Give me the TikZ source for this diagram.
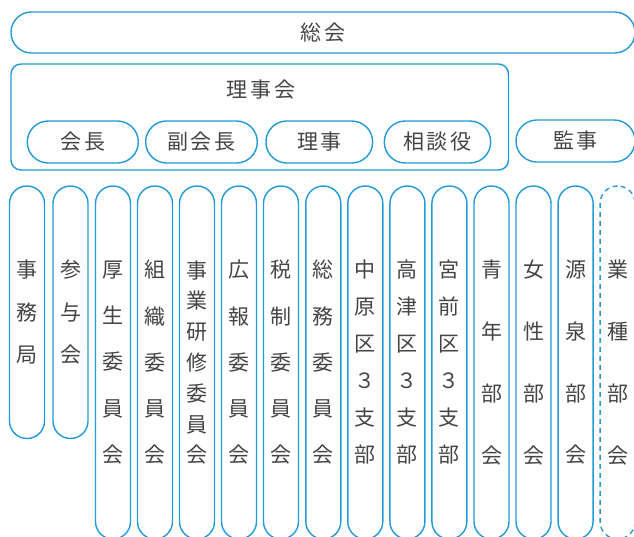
\documentclass[tikz,border=0pt]{standalone}
\usepackage{fontspec}
\setmainfont{Noto Sans CJK JP}
\newfontfamily\jpwide[LetterSpace=12]{Noto Sans CJK JP}
\definecolor{lineblue}{RGB}{32,154,216}
\definecolor{textgray}{RGB}{68,68,68}
\begin{document}
\begin{tikzpicture}[x=1pt,y=-1pt,
    every node/.style={text=textgray, inner sep=0pt},
    box/.style={draw=lineblue, line width=1.4pt},
    hpill/.style={box, rounded corners=20.9pt, minimum height=42pt,
      font=\jpwide\fontsize{21}{21}\selectfont},
    col/.style={box, rounded corners=17.4pt, minimum width=35pt, align=center},
    long/.style={col, minimum height=353pt},
    short/.style={col, minimum height=252.5pt},
    three/.style={font=\fontsize{21}{42.5}\selectfont},
    four/.style={font=\fontsize{21}{61.7}\selectfont},
    five/.style={font=\fontsize{21}{46.25}\selectfont},
    six/.style={font=\fontsize{21}{37}\selectfont},
    seven/.style={font=\fontsize{21}{30.8}\selectfont}]
    \useasboundingbox (0,0) rectangle (634,536);

    \node[hpill, minimum height=41pt, rounded corners=20.4pt, minimum width=624pt] (soukai) at (323,32.5) {総会};

    \node[box, rounded corners=10pt, minimum width=497.5pt, minimum height=106pt] (rijikai) at (259.75,117) {};
    \node[font=\jpwide\fontsize{21}{21}\selectfont] (rijikaiLabel) at (261,90) {理事会};

    \node[hpill, minimum width=111pt]   (kaicho)     at (82.8,142)  {会長};
    \node[hpill, minimum width=111.6pt] (fukukaicho) at (201.5,142) {副会長};
    \node[hpill, minimum width=106.7pt] (riji)       at (319.3,142) {理事};
    \node[hpill, minimum width=106.4pt] (sodanyaku)  at (437.5,142) {相談役};
    \node[hpill, minimum width=119pt]   (kanji)      at (575.5,141) {監事};

    \node[short, three] (jimukyoku) at (27,312.25)   {事\\務\\局};
    \node[short, three] (sanyokai)  at (70.5,312.25) {参\\与\\会};

    \node[long, five]  (kosei)    at (113,362.5)   {厚\\生\\委\\員\\会};
    \node[long, five]  (soshiki)  at (155,362.5)   {組\\織\\委\\員\\会};
    \node[long, seven] (kenshu)   at (197,362.5)   {事\\業\\研\\修\\委\\員\\会};
    \node[long, five]  (koho)     at (239,362.5)   {広\\報\\委\\員\\会};
    \node[long, five]  (zeisei)   at (281,362.5)   {税\\制\\委\\員\\会};
    \node[long, five]  (somu)     at (323.3,362.5) {総\\務\\委\\員\\会};
    \node[long, six]   (nakahara) at (365.3,362.5) {中\\原\\区\\３\\支\\部};
    \node[long, six]   (takatsu)  at (407.4,362.5) {高\\津\\区\\３\\支\\部};
    \node[long, six]   (miyamae)  at (449.4,362.5) {宮\\前\\区\\３\\支\\部};
    \node[long, four]  (seinen)   at (491.5,362.5) {青\\年\\部\\会};
    \node[long, four]  (josei)    at (533.5,362.5) {女\\性\\部\\会};
    \node[long, four]  (gensen)   at (575.6,362.5) {源\\泉\\部\\会};
    \node[long, four, dash pattern=on 5pt off 4pt] (gyoshu) at (617.6,362.5) {業\\種\\部\\会};
  \end{tikzpicture}
\end{document}
